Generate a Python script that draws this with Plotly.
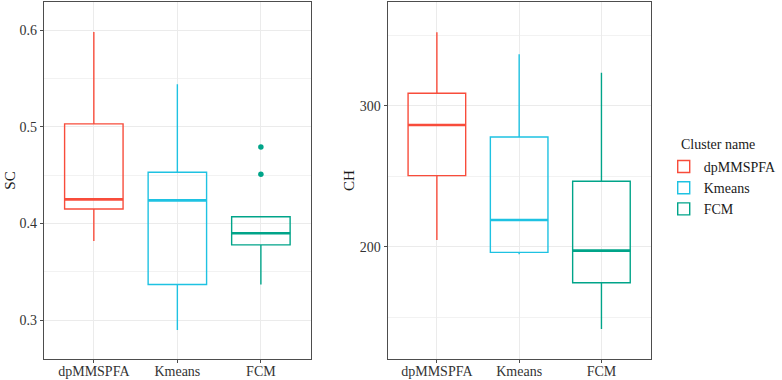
import plotly.graph_objects as go

categories = ["dpMMSPFA", "Kmeans", "FCM"]
colors = ["#F84C3B", "#1EC2E2", "#00A489"]

# SC panel statistics (lower whisker, Q1, median, Q3, upper whisker)
sc_low = [0.382, 0.290, 0.337]
sc_q1 = [0.415, 0.337, 0.378]
sc_med = [0.425, 0.424, 0.390]
sc_q3 = [0.503, 0.453, 0.407]
sc_high = [0.598, 0.544, 0.407]
sc_outliers = {"FCM": [0.479, 0.451]}

# CH panel statistics
ch_low = [204.7, 194.6, 141.6]
ch_q1 = [250.4, 196.0, 174.5]
ch_med = [286.3, 218.9, 197.2]
ch_q3 = [308.8, 277.8, 246.4]
ch_high = [352.0, 336.4, 323.4]

sc_ticks = [0.3, 0.4, 0.5, 0.6]
ch_ticks = [200, 300]

FONT = "Liberation Serif, Times New Roman, serif"
fig = go.Figure()

def add_panel(xa, ya, low, q1, med, q3, high, show):
    for i, cat in enumerate(categories):
        fig.add_trace(go.Box(
            x=[i], q1=[q1[i]], median=[med[i]], q3=[q3[i]],
            lowerfence=[low[i]], upperfence=[high[i]],
            width=0.7, whiskerwidth=0, name=cat, legendgroup=cat, showlegend=show,
            line=dict(color=colors[i], width=1.4),
            fillcolor="rgba(255,255,255,0)",
            boxpoints=False, hoverinfo="skip",
            xaxis=xa, yaxis=ya,
        ))
        fig.add_trace(go.Scatter(
            x=[i - 0.35, i + 0.35], y=[med[i], med[i]], mode="lines",
            line=dict(color=colors[i], width=2.6), showlegend=False,
            hoverinfo="skip", xaxis=xa, yaxis=ya,
        ))

add_panel("x", "y", sc_low, sc_q1, sc_med, sc_q3, sc_high, True)
add_panel("x2", "y2", ch_low, ch_q1, ch_med, ch_q3, ch_high, False)

for cat, vals in sc_outliers.items():
    i = categories.index(cat)
    fig.add_trace(go.Scatter(
        x=[i] * len(vals), y=vals, mode="markers",
        marker=dict(color=colors[i], size=5.5), showlegend=False,
        hoverinfo="skip", xaxis="x", yaxis="y",
    ))

grid = "#EBEBEB"
axis_common = dict(showline=True, mirror=True, linecolor="#4D4D4D", linewidth=1,
                   ticks="outside", ticklen=3, tickcolor="#4D4D4D", automargin=False,
                   gridcolor=grid, gridwidth=1, zeroline=False,
                   tickfont=dict(family=FONT, size=14, color="#333333"))

xcommon = dict(axis_common, tickmode="array", tickvals=[0, 1, 2], ticktext=categories,
               range=[-0.6, 2.6], showgrid=True, ticklabelstandoff=-4)

fig.update_layout(
    width=782, height=380,
    margin=dict(l=0, r=0, t=2, b=21),
    paper_bgcolor="white", plot_bgcolor="white",
    font=dict(family=FONT, size=14, color="#1a1a1a"),
    boxmode="overlay",
    xaxis=dict(xcommon, domain=[44 / 782, 313 / 782], anchor="y"),
    xaxis2=dict(xcommon, domain=[390 / 782, 655 / 782], anchor="y2"),
    yaxis=dict(axis_common, domain=[0, 1], anchor="x", range=[0.26, 0.629],
               tickmode="array", tickvals=sc_ticks, ticktext=[f"{v:.1f}" for v in sc_ticks],
               minor=dict(tickmode="array", tickvals=[0.25, 0.35, 0.45, 0.55],
                          showgrid=True, gridcolor="#F2F2F2", gridwidth=0.8, ticks=""),
               title=dict(text="SC", font=dict(family=FONT, size=15, color="#1a1a1a"), standoff=0)),
    yaxis2=dict(axis_common, domain=[0, 1], anchor="x2", range=[120.4, 373.5],
                tickmode="array", tickvals=ch_ticks, ticktext=[str(v) for v in ch_ticks],
                minor=dict(tickmode="array", tickvals=[150, 250, 350],
                           showgrid=True, gridcolor="#F2F2F2", gridwidth=0.8, ticks=""),
                title=dict(text="CH", font=dict(family=FONT, size=15, color="#1a1a1a"), standoff=1)),
    legend=dict(x=668 / 782, y=1 - 158.5 / 380, xanchor="left", yanchor="top",
                font=dict(family=FONT, size=14, color="#1a1a1a"),
                bgcolor="rgba(0,0,0,0)", tracegroupgap=0),
    annotations=[dict(text="Cluster name", x=683 / 782, y=1 - 152 / 380,
                      xref="paper", yref="paper", xanchor="left", yanchor="middle",
                      showarrow=False, font=dict(family=FONT, size=14, color="#1a1a1a"))],
)

fig.write_html("out.html", config={"displayModeBar": False},
               post_script="document.body.style.margin='0';")
